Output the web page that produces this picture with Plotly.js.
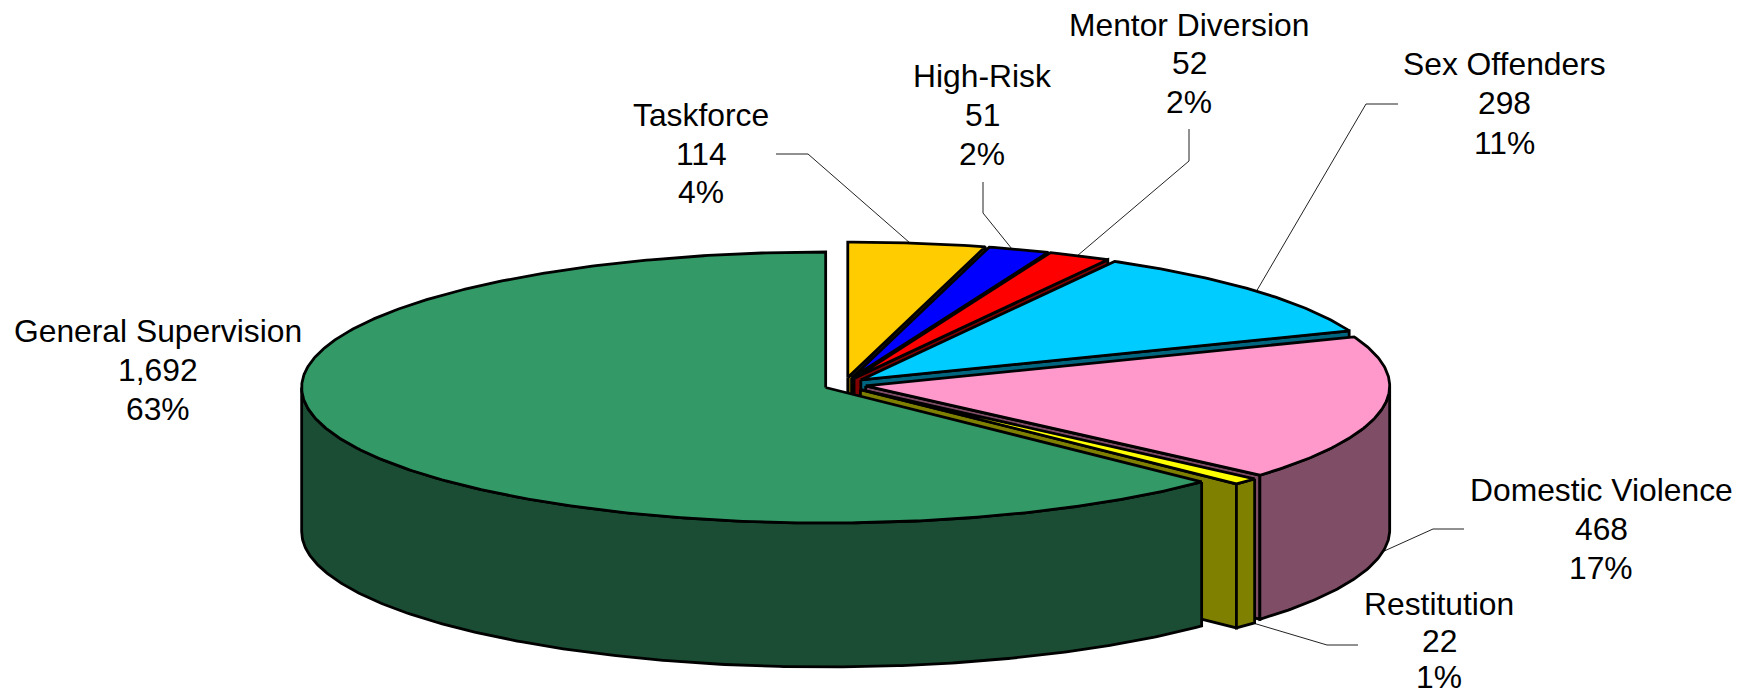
<!DOCTYPE html>
<html>
<head>
<meta charset="utf-8">
<script src="https://cdn.plot.ly/plotly-3.0.1.min.js"></script>
<style>html,body{margin:0;padding:0;background:#fff}#chart{width:1754px;height:697px}</style>
</head>
<body>
<div id="chart"></div>
<script>
// Data, clockwise from 12 o'clock
const categories = ["Taskforce", "High-Risk", "Mentor Diversion", "Sex Offenders", "Domestic Violence", "Restitution", "General Supervision"];
const values = [114, 51, 52, 298, 468, 22, 1692];
const topColors = ["#FFCC00", "#0000FF", "#FF0000", "#00CCFF", "#FF99CC", "#FFFF00", "#339966"];
const sideColors = ["#806600", "#000080", "#800000", "#006680", "#804D66", "#808000", "#1A4D33"];

// Label placement: centre x and the y of each of the three text lines
const labelX = [701, 982, 1189, 1504, 1601, 1439, 158];
const labelY = [[115,154,192],[76,115,154],[25,63,102],[64,103,143],[490,529,568],[604,641,677],[331,370,409]];
// Leader line paths
const leaderX = [[776,808,910],[983,983,1012],[1189,1189,1077],[1398,1366,1256],[1464,1433,1382],[1358,1327,1253]];
const leaderY = [[154,154,243],[182,213,249],[129,161,256],[104,104,292],[529,529,552],[645,645,623]];

// Pie geometry
const CX = 845, CY = 384.7, RX = 524, RY = 135.5, DEPTH = 144, EXP_X = 21, EXP_Y = 7.2;
const total = values.reduce((a, b) => a + b, 0);
const rad = d => d * Math.PI / 180;

const traces = [];
function poly(xs, ys, fill, name) {
  traces.push({type: "scatter", mode: "lines", x: xs.concat(xs[0]), y: ys.concat(ys[0]), fill: "toself",
    fillcolor: fill, line: {color: "#000", width: 2.8, shape: "linear"}, hoverinfo: "skip", showlegend: false, name: name});
}
function arc(ox, oy, a0, a1, dy) {
  const n = Math.max(2, Math.ceil(Math.abs(a1 - a0) * 2));
  const xs = [], ys = [];
  for (let i = 0; i <= n; i++) {
    const a = a0 + (a1 - a0) * i / n;
    xs.push(ox + RX * Math.sin(rad(a)));
    ys.push(oy - RY * Math.cos(rad(a)) + dy);
  }
  return [xs, ys];
}

leaderX.forEach((lx, i) => traces.push({type: "scatter", mode: "lines", x: lx, y: leaderY[i],
  line: {color: "#222", width: 1}, hoverinfo: "skip", showlegend: false, name: "leader " + categories[i]}));

let cum = 0;
categories.forEach((name, i) => {
  const a0 = cum / total * 360;
  cum += values[i];
  const a1 = cum / total * 360;
  const mid = rad((a0 + a1) / 2);
  const ox = CX + EXP_X * Math.sin(mid), oy = CY - EXP_Y * Math.cos(mid);
  const wall = a => {
    const ex = ox + RX * Math.sin(rad(a)), ey = oy - RY * Math.cos(rad(a));
    poly([ox, ex, ex, ox], [oy, ey, ey + DEPTH, oy + DEPTH], sideColors[i], name + " cut");
  };
  if (Math.sin(rad(a0)) < -1e-6) wall(a0);
  if (Math.sin(rad(a1)) > 1e-6) wall(a1);
  const f0 = Math.max(a0, 90), f1 = Math.min(a1, 270);
  if (f1 > f0) {
    const [tx, ty] = arc(ox, oy, f0, f1, 0);
    const [bx, by] = arc(ox, oy, f1, f0, DEPTH);
    poly(tx.concat(bx), ty.concat(by), sideColors[i], name + " side");
  }
  const [rx, ry] = arc(ox, oy, a0, a1, 0);
  poly([ox].concat(rx), [oy].concat(ry), topColors[i], name);
});

const annotations = [];
categories.forEach((name, i) => {
  const lines = [name, values[i].toLocaleString("en-US"), Math.round(values[i] / total * 100) + "%"];
  lines.forEach((t, j) => annotations.push({
    text: t, x: labelX[i], y: labelY[i][j], xref: "x", yref: "y", showarrow: false,
    xanchor: "center", yanchor: "middle", align: "center",
    font: {family: "Liberation Sans, Arial, sans-serif", size: 31.8, color: "#000"}
  }));
});

Plotly.newPlot("chart", traces, {
  width: 1754, height: 697,
  margin: {l: 0, r: 0, t: 0, b: 0},
  paper_bgcolor: "#fff", plot_bgcolor: "#fff",
  xaxis: {range: [0, 1754], visible: false, fixedrange: true},
  yaxis: {range: [697, 0], visible: false, fixedrange: true},
  showlegend: false, hovermode: false,
  annotations: annotations
}, {displayModeBar: false, staticPlot: true});
</script>
</body>
</html>
